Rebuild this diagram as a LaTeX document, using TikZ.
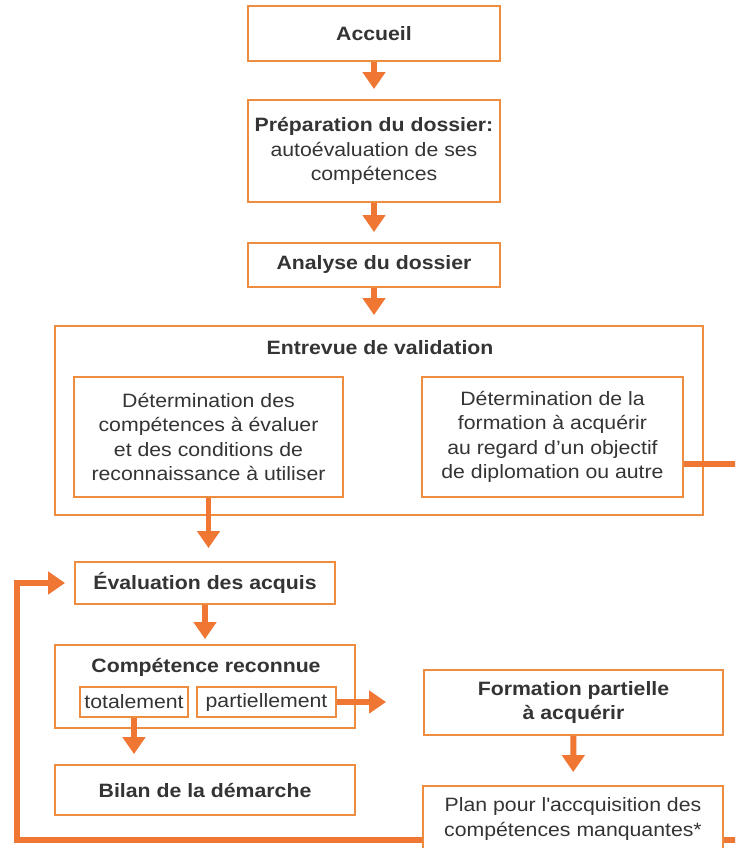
\documentclass[tikz,border=0pt]{standalone}
\usepackage{fontspec}
\setmainfont{Liberation Sans}[FakeStretch=1.1]
\usetikzlibrary{arrows.meta}

\definecolor{boxorange}{RGB}{238,140,64}
\definecolor{arroworange}{RGB}{240,118,52}
\definecolor{textgray}{RGB}{52,52,52}

\tikzstyle{chart}=[%
	x = 0.02cm, y = -0.02cm,
	every node/.style = {
		text = textgray,
		font = \fontsize{11}{13.8}\selectfont,
		align = center,
		inner sep = 0pt
	}
]
\tikzstyle{box}=[draw=boxorange, line width=1.1pt, fill=white]
\tikzstyle{flow}=[draw=arroworange, line width=3.4pt, -{Triangle[width=12.5pt,length=9.6pt]}]
\tikzstyle{link}=[draw=arroworange, line width=3.2pt]
\tikzset{wh/.style 2 args={minimum width=#1*0.02cm, minimum height=#2*0.02cm}}

\begin{document}
\begin{tikzpicture}[chart]

	% Background, frame
	\useasboundingbox (0,0) rectangle (735,848);
	\clip (0,0) rectangle (735,848);
	\fill[white] (0,0) rectangle (735,848);

	% Top chain
	\node[box, wh={252}{55}] (accueil) at (374,33.5) {\bfseries Accueil};
	\node[box, wh={252}{102}] (prep) at (374,151) {\bfseries Préparation du dossier:\\autoévaluation de ses\\compétences};
	\node[box, wh={252}{44}] (analyse) at (374,265) {\bfseries Analyse du dossier};

	% Validation interview
	\node[box, wh={648}{189}] (entrevue) at (379,420.5) {};
	\node (entrevuetitle) at (380,348) {\bfseries Entrevue de validation};
	\node[box, wh={269}{120}] (det) at (208.5,437) {Détermination des\\compétences à évaluer\\et des conditions de\\reconnaissance à utiliser};
	\node[box, wh={261}{120}] (formgoal) at (552.5,437) {Détermination de la\\formation à acquérir\\au regard d’un objectif\\de diplomation ou autre};

	% Assessment
	\node[box, wh={260}{42}] (eval) at (205,583) {\bfseries Évaluation des acquis};
	\node[box, wh={300}{83}] (reconnue) at (205,686.5) {};
	\node (reconnuetitle) at (206,667) {\bfseries Compétence reconnue};
	\node[box, wh={108}{30}] (total) at (134,702) {totalement};
	\node[box, wh={139}{30}] (partiel) at (266.5,702) {partiellement};
	\node[box, wh={300}{50}] (bilan) at (205,790) {\bfseries Bilan de la démarche};

	% Partial training
	\node[box, wh={299}{65}] (formation) at (573.5,702.5) {\bfseries Formation partielle\\\bfseries à acquérir};
	\node[box, wh={300}{66}] (plan) at (573,819) {Plan pour l\textquotesingle accquisition des\\compétences manquantes*};

	% Free ends
	\coordinate (edgeR) at (745,464);
	\coordinate (edgeP) at (745,840);
	\coordinate (loopturn) at (17,583);

	% Arrows
	\foreach \a/\b in {accueil/prep, prep/analyse, analyse/entrevue} {
		\draw[flow, shorten >=0.2cm] (\a.south) -- (\a.south |- \b.north);
	}
	\draw[flow, shorten >=0.26cm] (det.south) -- (det.south |- eval.north);
	\draw[flow, shorten >=0.1cm] (eval.south) -- (eval.south |- reconnue.north);
	\draw[flow, shorten >=0.2cm] (total.south) -- (total.south |- bilan.north);
	\draw[flow, shorten >=0.74cm] (partiel.east) -- (partiel.east -| formation.west);
	\draw[flow, shorten >=0.26cm] (formation) -- (plan);

	% Lines out of the picture, loop back
	\draw[link] (formgoal.east |- edgeR) -- (edgeR);
	\draw[link] (plan.east |- edgeP) -- (edgeP);
	\draw[flow, shorten >=0.18cm] (plan.west |- edgeP) -| (loopturn) -- (eval);

\end{tikzpicture}
\end{document}
